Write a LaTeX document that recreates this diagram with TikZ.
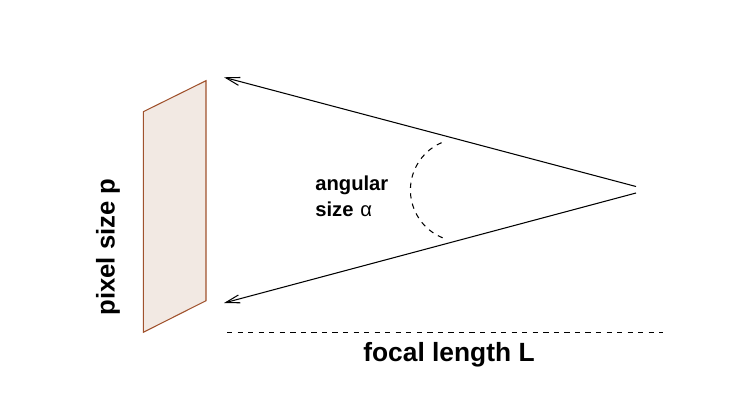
\documentclass[tikz,border=0pt]{standalone}
\usepackage{amsmath}
\usepackage{fontspec}
\setmainfont{Liberation Sans}
\usepackage{tikz}
\usetikzlibrary{arrows.meta}
\definecolor{pixfill}{HTML}{F2E9E3}
\definecolor{pixedge}{HTML}{A0522D}
\tikzset{
    lbl/.style={font=\bfseries\fontsize{15}{17}\selectfont, inner sep=0pt},
    ray/.style={-{Straight Barb[length=8pt,width=4.6pt]}, line width=0.6pt},
}

\begin{document}
\begin{tikzpicture}[x=0.02cm, y=-0.02cm]
            \useasboundingbox (0,0) rectangle (743,413);
            \coordinate (P1) at (143.3,111.7);
            \coordinate (P2) at (206,80.7);
            \coordinate (P3) at (206,300.7);
            \coordinate (P4) at (143.3,332.3);
            \coordinate (T) at (224,77.3);
            \coordinate (B) at (224,303);
            \coordinate (O1) at (636,186.5);
            \coordinate (O2) at (636,193);
            \coordinate (L1) at (227,332.7);
            \coordinate (L2) at (663,332.7);
            \node[lbl, rotate=90, font=\bfseries\fontsize{14.6}{17}\selectfont] (pix) at (108,247) {pixel size p};
            \node[lbl] (foc) at (449,355) {focal length L};
            \node[lbl, font=\bfseries\fontsize{11.5}{14}\selectfont, align=left, anchor=west] (ang) at (315,196) {angular\\[1pt]size\,\,{\normalfont α}};
            \draw[pixedge, fill=pixfill, line width=0.6pt] (P1) -- (P2) -- (P3) -- (P4) -- cycle;
            \draw[ray] (O1) -- (T);
            \draw[ray] (O2) -- (B);
            \draw[line width=0.6pt, dash pattern=on 3pt off 3pt] (L1) -- (L2);
            \draw[line width=0.6pt, dash pattern=on 3pt off 3pt] (462,190) ++(112:51.6) arc[start angle=112, end angle=248, radius=51.6];
        \end{tikzpicture}
\end{document}
